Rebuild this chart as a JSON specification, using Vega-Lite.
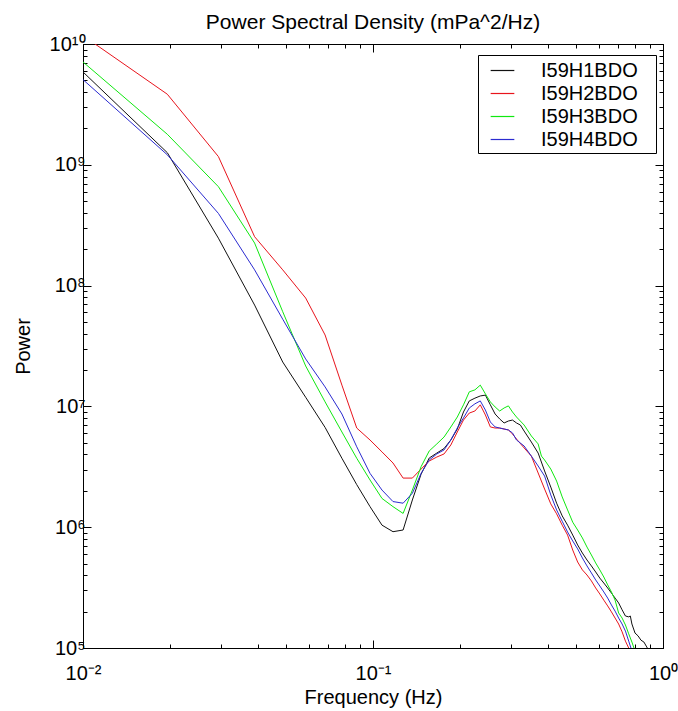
{
  "$schema": "https://vega.github.io/schema/vega-lite/v6.json",
  "width": 580,
  "height": 604,
  "autosize": "none",
  "padding": {"left": 83, "top": 44, "right": 15, "bottom": 63},
  "background": "white",
  "config": {
    "font": "Liberation Sans",
    "view": {"stroke": "black", "strokeWidth": 1},
    "axis": {"grid": false, "domainColor": "black", "tickColor": "black", "labelColor": "black", "titleColor": "black", "labelFont": "Liberation Sans", "titleFont": "Liberation Sans", "titleFontWeight": "normal", "tickWidth": 1, "domainWidth": 1}
  },
  "title": {"text": "Power Spectral Density (mPa^2/Hz)", "fontSize": 21, "fontWeight": "normal", "font": "Liberation Sans", "color": "black", "offset": 1},
  "datasets": {
    "psd": [
      {"s": "I59H1BDO", "f": 0.00977, "p": 6.19e9},
      {"s": "I59H1BDO", "f": 0.01953, "p": 1.26e9},
      {"s": "I59H1BDO", "f": 0.0293, "p": 2.47e8},
      {"s": "I59H1BDO", "f": 0.03906, "p": 6.9e7},
      {"s": "I59H1BDO", "f": 0.04883, "p": 2.33e7},
      {"s": "I59H1BDO", "f": 0.05859, "p": 1.19e7},
      {"s": "I59H1BDO", "f": 0.06836, "p": 6.7e6},
      {"s": "I59H1BDO", "f": 0.07813, "p": 3.72e6},
      {"s": "I59H1BDO", "f": 0.08789, "p": 2.25e6},
      {"s": "I59H1BDO", "f": 0.09766, "p": 1.48e6},
      {"s": "I59H1BDO", "f": 0.1074, "p": 1.04e6},
      {"s": "I59H1BDO", "f": 0.1172, "p": 9.18e5},
      {"s": "I59H1BDO", "f": 0.127, "p": 9.48e5},
      {"s": "I59H1BDO", "f": 0.1367, "p": 1.68e6},
      {"s": "I59H1BDO", "f": 0.1465, "p": 2.75e6},
      {"s": "I59H1BDO", "f": 0.1563, "p": 3.74e6},
      {"s": "I59H1BDO", "f": 0.166, "p": 4.11e6},
      {"s": "I59H1BDO", "f": 0.1758, "p": 4.48e6},
      {"s": "I59H1BDO", "f": 0.1855, "p": 5.27e6},
      {"s": "I59H1BDO", "f": 0.1953, "p": 6.5e6},
      {"s": "I59H1BDO", "f": 0.2051, "p": 8.99e6},
      {"s": "I59H1BDO", "f": 0.2148, "p": 1.11e7},
      {"s": "I59H1BDO", "f": 0.2246, "p": 1.17e7},
      {"s": "I59H1BDO", "f": 0.2344, "p": 1.22e7},
      {"s": "I59H1BDO", "f": 0.2441, "p": 1.24e7},
      {"s": "I59H1BDO", "f": 0.2539, "p": 1.03e7},
      {"s": "I59H1BDO", "f": 0.2637, "p": 8.65e6},
      {"s": "I59H1BDO", "f": 0.2734, "p": 7.87e6},
      {"s": "I59H1BDO", "f": 0.2832, "p": 7.29e6},
      {"s": "I59H1BDO", "f": 0.293, "p": 7.57e6},
      {"s": "I59H1BDO", "f": 0.3027, "p": 7.71e6},
      {"s": "I59H1BDO", "f": 0.3125, "p": 7.29e6},
      {"s": "I59H1BDO", "f": 0.3223, "p": 7.01e6},
      {"s": "I59H1BDO", "f": 0.332, "p": 6.25e6},
      {"s": "I59H1BDO", "f": 0.3516, "p": 5.07e6},
      {"s": "I59H1BDO", "f": 0.3711, "p": 4.11e6},
      {"s": "I59H1BDO", "f": 0.3906, "p": 2.92e6},
      {"s": "I59H1BDO", "f": 0.4102, "p": 2.15e6},
      {"s": "I59H1BDO", "f": 0.4297, "p": 1.58e6},
      {"s": "I59H1BDO", "f": 0.4492, "p": 1.24e6},
      {"s": "I59H1BDO", "f": 0.4688, "p": 1.04e6},
      {"s": "I59H1BDO", "f": 0.4883, "p": 8.61e5},
      {"s": "I59H1BDO", "f": 0.5078, "p": 7.13e5},
      {"s": "I59H1BDO", "f": 0.5273, "p": 6.11e5},
      {"s": "I59H1BDO", "f": 0.5469, "p": 5.35e5},
      {"s": "I59H1BDO", "f": 0.5664, "p": 4.78e5},
      {"s": "I59H1BDO", "f": 0.5859, "p": 4.26e5},
      {"s": "I59H1BDO", "f": 0.6055, "p": 3.79e5},
      {"s": "I59H1BDO", "f": 0.625, "p": 3.45e5},
      {"s": "I59H1BDO", "f": 0.6445, "p": 3.14e5},
      {"s": "I59H1BDO", "f": 0.6641, "p": 2.85e5},
      {"s": "I59H1BDO", "f": 0.6836, "p": 2.59e5},
      {"s": "I59H1BDO", "f": 0.7031, "p": 2.36e5},
      {"s": "I59H1BDO", "f": 0.7227, "p": 2.07e5},
      {"s": "I59H1BDO", "f": 0.7422, "p": 1.84e5},
      {"s": "I59H1BDO", "f": 0.7617, "p": 1.81e5},
      {"s": "I59H1BDO", "f": 0.7715, "p": 1.84e5},
      {"s": "I59H1BDO", "f": 0.7813, "p": 1.58e5},
      {"s": "I59H1BDO", "f": 0.8008, "p": 1.33e5},
      {"s": "I59H1BDO", "f": 0.8203, "p": 1.26e5},
      {"s": "I59H1BDO", "f": 0.8398, "p": 1.16e5},
      {"s": "I59H1BDO", "f": 0.8594, "p": 1.12e5},
      {"s": "I59H1BDO", "f": 0.8789, "p": 1.02e5},
      {"s": "I59H1BDO", "f": 0.8984, "p": 9.27e4},

      {"s": "I59H2BDO", "f": 0.00977, "p": 1.22e10},
      {"s": "I59H2BDO", "f": 0.01953, "p": 3.84e9},
      {"s": "I59H2BDO", "f": 0.0293, "p": 1.17e9},
      {"s": "I59H2BDO", "f": 0.03906, "p": 2.54e8},
      {"s": "I59H2BDO", "f": 0.04883, "p": 1.35e8},
      {"s": "I59H2BDO", "f": 0.05859, "p": 7.89e7},
      {"s": "I59H2BDO", "f": 0.06836, "p": 3.9e7},
      {"s": "I59H2BDO", "f": 0.07813, "p": 1.5e7},
      {"s": "I59H2BDO", "f": 0.08789, "p": 6.62e6},
      {"s": "I59H2BDO", "f": 0.09766, "p": 5.27e6},
      {"s": "I59H2BDO", "f": 0.1074, "p": 4.2e6},
      {"s": "I59H2BDO", "f": 0.1172, "p": 3.4e6},
      {"s": "I59H2BDO", "f": 0.127, "p": 2.55e6},
      {"s": "I59H2BDO", "f": 0.1367, "p": 2.55e6},
      {"s": "I59H2BDO", "f": 0.1465, "p": 3.03e6},
      {"s": "I59H2BDO", "f": 0.1563, "p": 3.53e6},
      {"s": "I59H2BDO", "f": 0.166, "p": 3.81e6},
      {"s": "I59H2BDO", "f": 0.1758, "p": 4.04e6},
      {"s": "I59H2BDO", "f": 0.1855, "p": 4.79e6},
      {"s": "I59H2BDO", "f": 0.1953, "p": 6.14e6},
      {"s": "I59H2BDO", "f": 0.2051, "p": 7.71e6},
      {"s": "I59H2BDO", "f": 0.2148, "p": 8.81e6},
      {"s": "I59H2BDO", "f": 0.2246, "p": 9.16e6},
      {"s": "I59H2BDO", "f": 0.2344, "p": 1.03e7},
      {"s": "I59H2BDO", "f": 0.2441, "p": 8.49e6},
      {"s": "I59H2BDO", "f": 0.2539, "p": 6.76e6},
      {"s": "I59H2BDO", "f": 0.2637, "p": 6.62e6},
      {"s": "I59H2BDO", "f": 0.2734, "p": 6.62e6},
      {"s": "I59H2BDO", "f": 0.2832, "p": 6.5e6},
      {"s": "I59H2BDO", "f": 0.293, "p": 6.38e6},
      {"s": "I59H2BDO", "f": 0.3027, "p": 5.92e6},
      {"s": "I59H2BDO", "f": 0.3125, "p": 5.37e6},
      {"s": "I59H2BDO", "f": 0.332, "p": 4.53e6},
      {"s": "I59H2BDO", "f": 0.3516, "p": 3.88e6},
      {"s": "I59H2BDO", "f": 0.3711, "p": 2.81e6},
      {"s": "I59H2BDO", "f": 0.3906, "p": 2.07e6},
      {"s": "I59H2BDO", "f": 0.4102, "p": 1.56e6},
      {"s": "I59H2BDO", "f": 0.4297, "p": 1.29e6},
      {"s": "I59H2BDO", "f": 0.4492, "p": 1.04e6},
      {"s": "I59H2BDO", "f": 0.4688, "p": 8.61e5},
      {"s": "I59H2BDO", "f": 0.4883, "p": 6.47e5},
      {"s": "I59H2BDO", "f": 0.5078, "p": 5.15e5},
      {"s": "I59H2BDO", "f": 0.5273, "p": 4.43e5},
      {"s": "I59H2BDO", "f": 0.5469, "p": 4.02e5},
      {"s": "I59H2BDO", "f": 0.5664, "p": 3.59e5},
      {"s": "I59H2BDO", "f": 0.5859, "p": 3.14e5},
      {"s": "I59H2BDO", "f": 0.6055, "p": 2.8e5},
      {"s": "I59H2BDO", "f": 0.625, "p": 2.49e5},
      {"s": "I59H2BDO", "f": 0.6445, "p": 2.23e5},
      {"s": "I59H2BDO", "f": 0.6641, "p": 1.99e5},
      {"s": "I59H2BDO", "f": 0.6836, "p": 1.77e5},
      {"s": "I59H2BDO", "f": 0.7031, "p": 1.58e5},
      {"s": "I59H2BDO", "f": 0.7227, "p": 1.36e5},
      {"s": "I59H2BDO", "f": 0.7422, "p": 1.14e5},
      {"s": "I59H2BDO", "f": 0.7617, "p": 1.0e5},
      {"s": "I59H2BDO", "f": 0.7813, "p": 8.75e4},

      {"s": "I59H3BDO", "f": 0.00977, "p": 7.45e9},
      {"s": "I59H3BDO", "f": 0.01953, "p": 1.79e9},
      {"s": "I59H3BDO", "f": 0.0293, "p": 6.59e8},
      {"s": "I59H3BDO", "f": 0.03906, "p": 2.25e8},
      {"s": "I59H3BDO", "f": 0.04883, "p": 6.08e7},
      {"s": "I59H3BDO", "f": 0.05859, "p": 2.16e7},
      {"s": "I59H3BDO", "f": 0.06836, "p": 1.09e7},
      {"s": "I59H3BDO", "f": 0.07813, "p": 6.14e6},
      {"s": "I59H3BDO", "f": 0.08789, "p": 3.72e6},
      {"s": "I59H3BDO", "f": 0.09766, "p": 2.46e6},
      {"s": "I59H3BDO", "f": 0.1074, "p": 1.73e6},
      {"s": "I59H3BDO", "f": 0.1172, "p": 1.48e6},
      {"s": "I59H3BDO", "f": 0.127, "p": 1.3e6},
      {"s": "I59H3BDO", "f": 0.1367, "p": 2.03e6},
      {"s": "I59H3BDO", "f": 0.1465, "p": 3.17e6},
      {"s": "I59H3BDO", "f": 0.1563, "p": 4.28e6},
      {"s": "I59H3BDO", "f": 0.166, "p": 4.89e6},
      {"s": "I59H3BDO", "f": 0.1758, "p": 5.58e6},
      {"s": "I59H3BDO", "f": 0.1855, "p": 6.75e6},
      {"s": "I59H3BDO", "f": 0.1953, "p": 8.17e6},
      {"s": "I59H3BDO", "f": 0.2051, "p": 1.03e7},
      {"s": "I59H3BDO", "f": 0.2148, "p": 1.32e7},
      {"s": "I59H3BDO", "f": 0.2246, "p": 1.37e7},
      {"s": "I59H3BDO", "f": 0.2344, "p": 1.5e7},
      {"s": "I59H3BDO", "f": 0.2441, "p": 1.27e7},
      {"s": "I59H3BDO", "f": 0.2539, "p": 1.09e7},
      {"s": "I59H3BDO", "f": 0.2637, "p": 9.89e6},
      {"s": "I59H3BDO", "f": 0.2734, "p": 9.16e6},
      {"s": "I59H3BDO", "f": 0.2832, "p": 9.7e6},
      {"s": "I59H3BDO", "f": 0.293, "p": 1.01e7},
      {"s": "I59H3BDO", "f": 0.3027, "p": 8.99e6},
      {"s": "I59H3BDO", "f": 0.3125, "p": 8.17e6},
      {"s": "I59H3BDO", "f": 0.332, "p": 7.01e6},
      {"s": "I59H3BDO", "f": 0.3516, "p": 5.69e6},
      {"s": "I59H3BDO", "f": 0.3711, "p": 4.89e6},
      {"s": "I59H3BDO", "f": 0.3809, "p": 3.88e6},
      {"s": "I59H3BDO", "f": 0.3906, "p": 3.6e6},
      {"s": "I59H3BDO", "f": 0.4102, "p": 3.03e6},
      {"s": "I59H3BDO", "f": 0.4297, "p": 2.41e6},
      {"s": "I59H3BDO", "f": 0.4492, "p": 1.78e6},
      {"s": "I59H3BDO", "f": 0.4688, "p": 1.39e6},
      {"s": "I59H3BDO", "f": 0.4883, "p": 1.1e6},
      {"s": "I59H3BDO", "f": 0.5078, "p": 9.48e5},
      {"s": "I59H3BDO", "f": 0.5273, "p": 8.15e5},
      {"s": "I59H3BDO", "f": 0.5469, "p": 6.85e5},
      {"s": "I59H3BDO", "f": 0.5664, "p": 5.89e5},
      {"s": "I59H3BDO", "f": 0.5859, "p": 5.06e5},
      {"s": "I59H3BDO", "f": 0.6055, "p": 4.43e5},
      {"s": "I59H3BDO", "f": 0.625, "p": 3.87e5},
      {"s": "I59H3BDO", "f": 0.6445, "p": 3.33e5},
      {"s": "I59H3BDO", "f": 0.6641, "p": 2.91e5},
      {"s": "I59H3BDO", "f": 0.6836, "p": 2.49e5},
      {"s": "I59H3BDO", "f": 0.7031, "p": 1.95e5},
      {"s": "I59H3BDO", "f": 0.7227, "p": 1.77e5},
      {"s": "I59H3BDO", "f": 0.7422, "p": 1.55e5},
      {"s": "I59H3BDO", "f": 0.7617, "p": 1.31e5},
      {"s": "I59H3BDO", "f": 0.7813, "p": 1.12e5},
      {"s": "I59H3BDO", "f": 0.8008, "p": 9.44e4},

      {"s": "I59H4BDO", "f": 0.00977, "p": 5.33e9},
      {"s": "I59H4BDO", "f": 0.01953, "p": 1.21e9},
      {"s": "I59H4BDO", "f": 0.0293, "p": 3.96e8},
      {"s": "I59H4BDO", "f": 0.03906, "p": 1.35e8},
      {"s": "I59H4BDO", "f": 0.04883, "p": 5.27e7},
      {"s": "I59H4BDO", "f": 0.05859, "p": 2.47e7},
      {"s": "I59H4BDO", "f": 0.06836, "p": 1.45e7},
      {"s": "I59H4BDO", "f": 0.07813, "p": 8.65e6},
      {"s": "I59H4BDO", "f": 0.08789, "p": 4.63e6},
      {"s": "I59H4BDO", "f": 0.09766, "p": 2.79e6},
      {"s": "I59H4BDO", "f": 0.1074, "p": 2.03e6},
      {"s": "I59H4BDO", "f": 0.1172, "p": 1.63e6},
      {"s": "I59H4BDO", "f": 0.127, "p": 1.58e6},
      {"s": "I59H4BDO", "f": 0.1367, "p": 1.91e6},
      {"s": "I59H4BDO", "f": 0.1465, "p": 2.79e6},
      {"s": "I59H4BDO", "f": 0.1563, "p": 3.6e6},
      {"s": "I59H4BDO", "f": 0.166, "p": 4.04e6},
      {"s": "I59H4BDO", "f": 0.1758, "p": 4.36e6},
      {"s": "I59H4BDO", "f": 0.1855, "p": 5.27e6},
      {"s": "I59H4BDO", "f": 0.1953, "p": 6.62e6},
      {"s": "I59H4BDO", "f": 0.2051, "p": 8.02e6},
      {"s": "I59H4BDO", "f": 0.2148, "p": 9.7e6},
      {"s": "I59H4BDO", "f": 0.2246, "p": 1.05e7},
      {"s": "I59H4BDO", "f": 0.2344, "p": 1.11e7},
      {"s": "I59H4BDO", "f": 0.2441, "p": 9.33e6},
      {"s": "I59H4BDO", "f": 0.2539, "p": 7.43e6},
      {"s": "I59H4BDO", "f": 0.2637, "p": 6.76e6},
      {"s": "I59H4BDO", "f": 0.2734, "p": 6.62e6},
      {"s": "I59H4BDO", "f": 0.2832, "p": 6.5e6},
      {"s": "I59H4BDO", "f": 0.293, "p": 6.38e6},
      {"s": "I59H4BDO", "f": 0.3027, "p": 6.03e6},
      {"s": "I59H4BDO", "f": 0.3125, "p": 5.27e6},
      {"s": "I59H4BDO", "f": 0.332, "p": 4.7e6},
      {"s": "I59H4BDO", "f": 0.3516, "p": 3.88e6},
      {"s": "I59H4BDO", "f": 0.3711, "p": 3.21e6},
      {"s": "I59H4BDO", "f": 0.3906, "p": 2.65e6},
      {"s": "I59H4BDO", "f": 0.4102, "p": 1.85e6},
      {"s": "I59H4BDO", "f": 0.4297, "p": 1.39e6},
      {"s": "I59H4BDO", "f": 0.4492, "p": 1.12e6},
      {"s": "I59H4BDO", "f": 0.4688, "p": 9.12e5},
      {"s": "I59H4BDO", "f": 0.4883, "p": 7.69e5},
      {"s": "I59H4BDO", "f": 0.5078, "p": 6.61e5},
      {"s": "I59H4BDO", "f": 0.5273, "p": 5.56e5},
      {"s": "I59H4BDO", "f": 0.5469, "p": 4.78e5},
      {"s": "I59H4BDO", "f": 0.5664, "p": 4.18e5},
      {"s": "I59H4BDO", "f": 0.5859, "p": 3.66e5},
      {"s": "I59H4BDO", "f": 0.6055, "p": 3.26e5},
      {"s": "I59H4BDO", "f": 0.625, "p": 2.91e5},
      {"s": "I59H4BDO", "f": 0.6445, "p": 2.59e5},
      {"s": "I59H4BDO", "f": 0.6641, "p": 2.27e5},
      {"s": "I59H4BDO", "f": 0.6836, "p": 2.02e5},
      {"s": "I59H4BDO", "f": 0.7031, "p": 1.77e5},
      {"s": "I59H4BDO", "f": 0.7227, "p": 1.58e5},
      {"s": "I59H4BDO", "f": 0.7422, "p": 1.38e5},
      {"s": "I59H4BDO", "f": 0.7617, "p": 1.14e5},
      {"s": "I59H4BDO", "f": 0.7813, "p": 9.44e4}
    ]
  },
  "data": {"name": "psd"},
  "layer": [
    {
      "mark": {"type": "line", "clip": true, "strokeWidth": 1},
      "encoding": {
        "x": {
          "field": "f", "type": "quantitative",
          "scale": {"type": "log", "domain": [0.01, 1], "nice": false},
          "axis": {
            "orient": "bottom",
            "values": [0.01, 0.02, 0.03, 0.04, 0.05, 0.06, 0.07, 0.08, 0.09, 0.1, 0.2, 0.3, 0.4, 0.5, 0.6, 0.7, 0.8, 0.9, 1],
            "labelExpr": "abs(log(datum.value)/LN10 - round(log(datum.value)/LN10)) < 0.001 ? (datum.value < 0.05 ? '10⁻²' : (datum.value < 0.5 ? '10⁻¹' : '10⁰')) : ''",
            "tickSize": {"condition": {"test": "abs(log(datum.value)/LN10 - round(log(datum.value)/LN10)) < 0.001", "value": -8}, "value": -4},
            "labelFontSize": 20,
            "labelPadding": 23,
            "labelFlush": false,
            "labelOverlap": false,
            "title": "Frequency (Hz)",
            "titleFontSize": 20,
            "titlePadding": 0
          }
        },
        "y": {
          "field": "p", "type": "quantitative",
          "scale": {"type": "log", "domain": [100000, 10000000000], "nice": false},
          "axis": {
            "orient": "left",
            "values": [100000, 200000, 300000, 400000, 500000, 600000, 700000, 800000, 900000, 1000000, 2000000, 3000000, 4000000, 5000000, 6000000, 7000000, 8000000, 9000000, 10000000, 20000000, 30000000, 40000000, 50000000, 60000000, 70000000, 80000000, 90000000, 100000000, 200000000, 300000000, 400000000, 500000000, 600000000, 700000000, 800000000, 900000000, 1000000000, 2000000000, 3000000000, 4000000000, 5000000000, 6000000000, 7000000000, 8000000000, 9000000000, 10000000000],
            "labelExpr": "abs(log(datum.value)/LN10 - round(log(datum.value)/LN10)) < 0.001 ? ['10⁵','10⁶','10⁷','10⁸','10⁹','10¹⁰'][round(log(datum.value)/LN10) - 5] : ''",
            "tickSize": {"condition": {"test": "abs(log(datum.value)/LN10 - round(log(datum.value)/LN10)) < 0.001", "value": -8}, "value": -4},
            "labelFontSize": 20,
            "labelPadding": 6,
            "labelOverlap": false,
            "labelFlush": false,
            "title": "Power",
            "titleFontSize": 20,
            "titlePadding": 16
          }
        },
        "color": {
          "field": "s", "type": "nominal",
          "scale": {"domain": ["I59H1BDO", "I59H2BDO", "I59H3BDO", "I59H4BDO"], "range": ["#111111", "#e8141c", "#10e810", "#2b2bd0"]},
          "legend": {
            "title": null,
            "orient": "none",
            "legendX": 395,
            "legendY": 11,
            "strokeColor": "black",
            "fillColor": "white",
            "padding": 3,
            "symbolType": "stroke",
            "symbolSize": 560,
            "symbolStrokeWidth": 1.2,
            "symbolOffset": 9,
            "labelFontSize": 20,
            "labelFont": "Liberation Sans",
            "labelColor": "black",
            "labelOffset": 26,
            "rowPadding": 0,
            "labelExpr": "datum.label + '\u2800'"
          }
        }
      }
    },
    {
      "mark": {"type": "point", "opacity": 0, "clip": true},
      "encoding": {
        "x": {
          "field": "f", "type": "quantitative",
          "axis": {
            "orient": "top",
            "values": [0.01, 0.02, 0.03, 0.04, 0.05, 0.06, 0.07, 0.08, 0.09, 0.1, 0.2, 0.3, 0.4, 0.5, 0.6, 0.7, 0.8, 0.9, 1],
            "labels": false,
            "title": null,
            "tickSize": {"condition": {"test": "abs(log(datum.value)/LN10 - round(log(datum.value)/LN10)) < 0.001", "value": -8}, "value": -4}
          }
        },
        "y": {
          "field": "p", "type": "quantitative",
          "axis": {
            "orient": "right",
            "values": [100000, 200000, 300000, 400000, 500000, 600000, 700000, 800000, 900000, 1000000, 2000000, 3000000, 4000000, 5000000, 6000000, 7000000, 8000000, 9000000, 10000000, 20000000, 30000000, 40000000, 50000000, 60000000, 70000000, 80000000, 90000000, 100000000, 200000000, 300000000, 400000000, 500000000, 600000000, 700000000, 800000000, 900000000, 1000000000, 2000000000, 3000000000, 4000000000, 5000000000, 6000000000, 7000000000, 8000000000, 9000000000, 10000000000],
            "labels": false,
            "title": null,
            "tickSize": {"condition": {"test": "abs(log(datum.value)/LN10 - round(log(datum.value)/LN10)) < 0.001", "value": -8}, "value": -4}
          }
        }
      }
    }
  ],
  "resolve": {"axis": {"x": "independent", "y": "independent"}}
}
